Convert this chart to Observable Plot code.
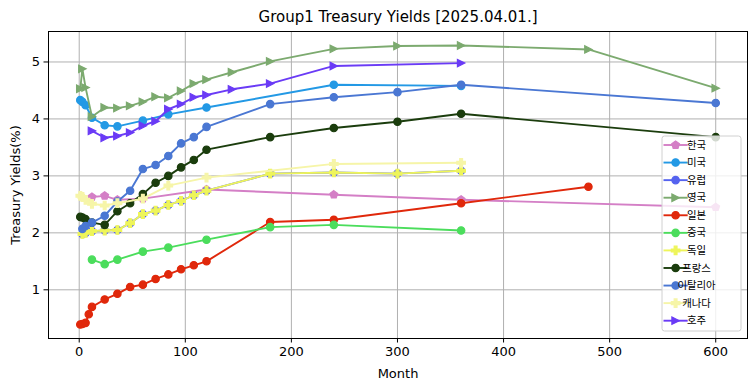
<!DOCTYPE html>
<html><head><meta charset="utf-8">
<script src="https://cdn.jsdelivr.net/npm/d3@7"></script>
<script src="https://cdn.jsdelivr.net/npm/@observablehq/plot@0.6"></script>
<style>
body{margin:0;background:#fff;font-family:"DejaVu Sans",sans-serif;}
#chart{position:relative;width:755px;height:391px;}
</style></head><body><div id="chart"></div>
<script>
const titleText = "Group1 Treasury Yields [2025.04.01.]";
const xLabel = "Month";
const yLabel = "Treasury Yields(%)";
const xTicks = [0,100,200,300,400,500,600];
const yTicks = [1,2,3,4,5];

const seriesNames  = ["한국","미국","유럽","영국","일본","중국","독일","프랑스","이탈리아","캐나다","호주"];
const seriesColors = ["#d47fc6","#2399e5","#5563ef","#7caa6f","#e0280b","#4bdd5c","#eef55a","#1b3d0d","#4a77d3","#f6f5a8","#6a3bf6"];
const seriesMarkers = ["pentagon","circle","circle","triangleRight","circle","circle","plus","circle","circle","plus","triangleRight"];

// [month, yield]
const korea     = [[12,2.63],[24,2.65],[36,2.58],[60,2.60],[120,2.76],[240,2.67],[360,2.58],[600,2.45]];
const usa       = [[1,4.33],[3,4.30],[6,4.24],[12,4.02],[24,3.89],[36,3.87],[60,3.97],[84,4.08],[120,4.20],[240,4.60],[360,4.58]];
const europe    = [[3,1.98],[6,2.00],[12,2.03],[24,2.04],[36,2.05],[48,2.17],[60,2.33],[72,2.39],[84,2.49],[96,2.56],[108,2.66],[120,2.74],[180,3.04],[240,3.06],[300,3.04],[360,3.09]];
const uk        = [[1,4.53],[3,4.88],[6,4.55],[12,4.04],[24,4.20],[36,4.19],[48,4.23],[60,4.30],[72,4.39],[84,4.37],[96,4.49],[108,4.62],[120,4.69],[144,4.82],[180,5.01],[240,5.23],[300,5.28],[360,5.29],[480,5.22],[600,4.54]];
const japan     = [[1,0.39],[3,0.40],[6,0.42],[9,0.57],[12,0.70],[24,0.83],[36,0.93],[48,1.05],[60,1.09],[72,1.19],[84,1.27],[96,1.36],[108,1.43],[120,1.50],[180,2.19],[240,2.23],[360,2.52],[480,2.81]];
const china     = [[12,1.53],[24,1.45],[36,1.53],[60,1.67],[84,1.74],[120,1.88],[180,2.10],[240,2.14],[360,2.04]];
const germany   = [[3,1.98],[6,2.00],[12,2.03],[24,2.04],[36,2.05],[48,2.17],[60,2.33],[72,2.39],[84,2.49],[96,2.56],[108,2.66],[120,2.74],[180,3.04],[240,3.06],[300,3.04],[360,3.09]];
const france    = [[1,2.28],[3,2.27],[6,2.24],[12,2.18],[24,2.14],[36,2.38],[48,2.52],[60,2.68],[72,2.88],[84,3.00],[96,3.15],[108,3.28],[120,3.46],[180,3.68],[240,3.84],[300,3.95],[360,4.09],[600,3.68]];
const italy     = [[3,2.07],[6,2.12],[12,2.18],[24,2.30],[36,2.55],[48,2.74],[60,3.12],[72,3.19],[84,3.35],[96,3.57],[108,3.68],[120,3.86],[180,4.26],[240,4.38],[300,4.47],[360,4.60],[600,4.28]];
const canada    = [[1,2.65],[3,2.63],[6,2.58],[12,2.51],[24,2.48],[36,2.52],[60,2.60],[84,2.83],[120,2.97],[240,3.21],[360,3.23]];
const australia = [[12,3.79],[24,3.67],[36,3.70],[48,3.76],[60,3.88],[72,3.96],[84,4.17],[96,4.26],[108,4.38],[120,4.42],[144,4.52],[180,4.62],[240,4.93],[360,4.98]];

const seriesData = [korea,usa,europe,uk,japan,china,germany,france,italy,canada,australia];

const rows = seriesData.flatMap((s,i)=>s.map(([m,v])=>({name:seriesNames[i], month:m, y:v})));

// custom marker shapes
const sym = {
  circle: d3.symbolCircle,
  triangleRight: {draw(ctx,size){const r=Math.sqrt(size/Math.PI);ctx.moveTo(r,0);ctx.lineTo(-r,-r);ctx.lineTo(-r,r);ctx.closePath();}},
  plus: {draw(ctx,size){const r=Math.sqrt(size/Math.PI)*1.15;const w=r/3;
    ctx.moveTo(-w,-r);ctx.lineTo(w,-r);ctx.lineTo(w,-w);ctx.lineTo(r,-w);ctx.lineTo(r,w);ctx.lineTo(w,w);
    ctx.lineTo(w,r);ctx.lineTo(-w,r);ctx.lineTo(-w,w);ctx.lineTo(-r,w);ctx.lineTo(-r,-w);ctx.lineTo(-w,-w);ctx.closePath();}},
  pentagon: {draw(ctx,size){const r=Math.sqrt(size/Math.PI)*1.1;for(let k=0;k<5;k++){const a=-Math.PI/2+k*2*Math.PI/5;const x=r*Math.cos(a),y=r*Math.sin(a);k?ctx.lineTo(x,y):ctx.moveTo(x,y);}ctx.closePath();}}
};

const xs = rows.map(d=>d.month), ys = rows.map(d=>d.y);
const xmin=d3.min(xs), xmax=d3.max(xs), ymin=d3.min(ys), ymax=d3.max(ys);
const xr=xmax-xmin, yr=ymax-ymin;

const seriesMarks = seriesNames.flatMap((n,i)=>{
  const d = rows.filter(r=>r.name===n);
  return [
    Plot.line(d,{x:"month",y:"y",stroke:seriesColors[i],strokeWidth:1.9}),
    Plot.dot(d,{x:"month",y:"y",symbol:()=>sym[seriesMarkers[i]],fill:seriesColors[i],stroke:seriesColors[i],strokeWidth:1.2,r:3.7})
  ];
});

const fmt = d3.format("d");
const plot = Plot.plot({
  width:755, height:391,
  marginLeft:48, marginRight:8, marginTop:31, marginBottom:53,
  style:{fontFamily:"DejaVu Sans", fontSize:"13px", color:"black", background:"white"},
  x:{domain:[xmin-0.05*xr, xmax+0.05*xr]},
  y:{domain:[ymin-0.05*yr, ymax+0.05*yr]},
  symbol:{type:"identity"},
  marks:[
    Plot.gridX(xTicks,{stroke:"#b0b0b0",strokeOpacity:1,strokeWidth:1}),
    Plot.gridY(yTicks,{stroke:"#b0b0b0",strokeOpacity:1,strokeWidth:1}),
    Plot.axisX(xTicks,{tickSize:4.5,tickPadding:4,fontSize:13,label:null,stroke:"black",tickFormat:fmt}),
    Plot.axisY(yTicks,{tickSize:4.5,tickPadding:4,fontSize:13,label:null,stroke:"black",tickFormat:fmt}),
    ...seriesMarks,
    Plot.frame({stroke:"black",strokeWidth:1}),
    Plot.text([titleText],{frameAnchor:"top",dy:-14,fontSize:15,lineAnchor:"middle",textAnchor:"middle",fill:"black"}),
    Plot.text([xLabel],{frameAnchor:"bottom",dy:35,fontSize:13,lineAnchor:"middle",textAnchor:"middle",fill:"black"}),
    Plot.text([yLabel],{frameAnchor:"left",dx:-33,rotate:-90,fontSize:13,lineAnchor:"middle",textAnchor:"middle",fill:"black"})
  ]
});
document.getElementById("chart").appendChild(plot);

// legend
const svg = d3.select(plot);
const lg = svg.append("g");
const lx=662, ly=136, lw=79, lh=195, row0=145, step=17.57;
lg.append("rect").attr("x",lx).attr("y",ly).attr("width",lw).attr("height",lh).attr("rx",2.5)
  .attr("fill","white").attr("fill-opacity",0.8).attr("stroke","#d0d0d0").attr("stroke-width",1);
seriesNames.forEach((n,i)=>{
  const y=row0+i*step;
  lg.append("line").attr("x1",663.5).attr("x2",687.7).attr("y1",y).attr("y2",y)
    .attr("stroke",seriesColors[i]).attr("stroke-width",1.9);
  lg.append("path").attr("d",d3.symbol(sym[seriesMarkers[i]],Math.PI*3.7*3.7)())
    .attr("transform",`translate(675.6,${y})`).attr("fill",seriesColors[i]).attr("stroke",seriesColors[i]).attr("stroke-width",1.2);
  lg.append("text").attr("x",696.5).attr("y",y).attr("dy","0.35em").attr("font-size",10.4)
    .attr("font-family","'Noto Sans CJK KR', sans-serif").attr("fill","black").text(n);
});
</script></body></html>
